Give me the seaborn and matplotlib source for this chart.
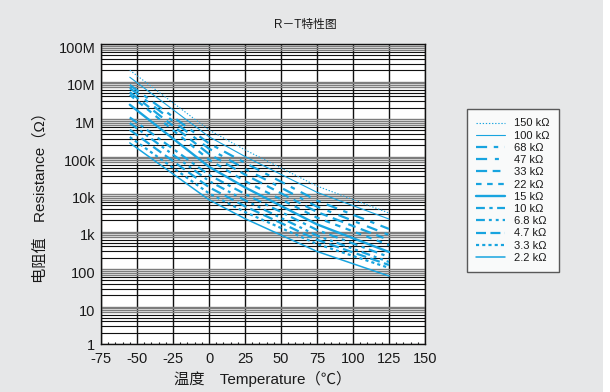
import matplotlib
matplotlib.use("Agg")
import matplotlib.pyplot as plt
import matplotlib.transforms as mtransforms
import numpy as np
import pandas as pd
import seaborn as sns

# Resistance (ohm) of each NTC thermistor at the listed temperatures (degC)
temps = [-55, 0, 25, 75, 125]
r_150k = [20.0e6, 509e3, 150e3, 16.3e3, 3.1e3]
r_100k = [13.0e6, 337e3, 100e3, 11.1e3, 2.15e3]
r_68k = [8.1e6, 224e3, 68e3, 6.67e3, 1.17e3]
r_47k = [6.7e6, 162e3, 47e3, 4.61e3, 810]
r_33k = [5.2e6, 117e3, 33e3, 3.32e3, 593]
r_22k = [4.4e6, 82.6e3, 22e3, 2.34e3, 435]
r_15k = [2.4e6, 53.2e3, 15e3, 1.55e3, 284]
r_10k = [1.1e6, 32.3e3, 10e3, 1.10e3, 209]
r_6k8 = [780e3, 22.2e3, 6.8e3, 780, 154]
r_4k7 = [515e3, 15.2e3, 4.7e3, 600, 128]
r_3k3 = [330e3, 10.4e3, 3.3e3, 465, 107]
r_2k2 = [230e3, 7.03e3, 2.2e3, 294, 65]

series_labels = ["150 kΩ", "100 kΩ", "68 kΩ", "47 kΩ", "33 kΩ", "22 kΩ",
                 "15 kΩ", "10 kΩ", "6.8 kΩ", "4.7 kΩ", "3.3 kΩ", "2.2 kΩ"]
series_values = [r_150k, r_100k, r_68k, r_47k, r_33k, r_22k,
                 r_15k, r_10k, r_6k8, r_4k7, r_3k3, r_2k2]

x_ticks = [-75, -50, -25, 0, 25, 50, 75, 100, 125, 150]
y_ticks = [1, 10, 100, 1e3, 1e4, 1e5, 1e6, 1e7, 1e8]
y_tick_labels = ["1", "10", "100", "1k", "10k", "100k", "1M", "10M", "100M"]

# line style and width of each curve
styles = [
    ((0, (1.2, 1.6)), 0.8),
    ("-", 0.8),
    ((0, (5, 3, 2, 3)), 1.6),
    ((0, (5, 3.5, 1.8, 3.5)), 1.6),
    ((0, (5, 2.5, 3.5, 2.5)), 1.6),
    ((0, (2.5, 2.5)), 1.6),
    ("-", 1.7),
    ((0, (4, 2, 1.5, 2)), 1.6),
    ((0, (4, 1.8, 1.3, 1.8, 1.3, 1.8)), 1.6),
    ((0, (4.5, 2)), 1.6),
    ((0, (1.4, 1.4)), 1.6),
    ("-", 1.1),
]
curve_color = "#18a4df"
text_color = "#1a1a1a"

rows = []
for lab, vals in zip(series_labels, series_values):
    for t, r in zip(temps, vals):
        rows.append({"series": lab, "temp": t, "R": r})
df = pd.DataFrame(rows)

sns.set_theme(style="white")
plt.rcParams["font.family"] = ["Liberation Sans", "Noto Sans CJK SC", "DejaVu Sans"]

fig = plt.figure(figsize=(6.10, 3.92), dpi=100)
fig.patch.set_facecolor("#e6e7e8")
# white strip along the right edge
fig.add_artist(plt.Rectangle((603 / 610, 0), 7 / 610, 1, transform=fig.transFigure,
                             facecolor="white", edgecolor="none"))

ax = fig.add_axes([101 / 610, 1 - 344 / 392, 324 / 610, 300 / 392])
ax.set_facecolor("white")
ax.set_yscale("log")
ax.set_xlim(-75, 150)
ax.set_ylim(1, 1e8)

# grid: vertical every 25 degC, horizontal at every log subdivision
for xv in x_ticks:
    ax.axvline(xv, color="#111111", lw=1.0, zorder=1)
for k in range(8):
    base = 10.0 ** k
    for m in range(1, 10):
        yv = m * base
        if m == 1 or m >= 7:
            ax.axhline(yv, color="#7d7d7d", lw=1.0, zorder=1)
        else:
            ax.axhline(yv, color="#111111", lw=0.8, zorder=1)
ax.axhline(1e8, color="#7d7d7d", lw=1.0, zorder=1)

handles = []
for (lab, vals), (ls, lw) in zip(zip(series_labels, series_values), styles):
    sub = df[df["series"] == lab]
    sns.lineplot(data=sub, x="temp", y="R", ax=ax, color=curve_color,
                 linestyle=ls, linewidth=lw, label=lab, legend=False, zorder=3)
    handles.append(ax.get_lines()[-1])

ax.set_xticks(x_ticks)
ax.set_xticklabels([str(v) for v in x_ticks], fontsize=10.5, color=text_color)
ax.set_yticks(y_ticks)
ax.set_yticklabels(y_tick_labels, fontsize=10.5, color=text_color)
ax.yaxis.set_minor_locator(matplotlib.ticker.NullLocator())
ax.set_xticks(np.arange(-75, 151, 5), minor=True)
ax.tick_params(axis="x", which="major", length=0, pad=6)
ax.tick_params(axis="y", which="major", length=0, pad=4)
ax.tick_params(axis="x", which="minor", direction="in", length=1.5, width=0.8,
               color="#111111", bottom=True)
# y labels sit slightly below their decade lines (except the bottom one)
shift = mtransforms.ScaledTranslation(0, -3.5 / 100, fig.dpi_scale_trans)
for lbl in ax.get_yticklabels()[1:]:
    lbl.set_transform(lbl.get_transform() + shift)
for sp in ax.spines.values():
    sp.set_color("#111111")
    sp.set_linewidth(1.0)

ax.set_xlabel("温度　Temperature（℃）", fontsize=11, color=text_color, labelpad=3)
ax.set_ylabel("电阻值　Resistance（Ω）", fontsize=11, color=text_color, labelpad=8)

fig.text(0.5, 1 - 25 / 392, "R－T特性图", ha="center", va="center",
         fontsize=8.5, color=text_color)

leg = fig.legend(handles=handles, labels=series_labels, loc="upper left",
                 bbox_to_anchor=(467 / 610, 1 - 109 / 392), fontsize=8,
                 frameon=True, fancybox=False, handlelength=2.6,
                 handletextpad=0.8, labelspacing=0.2, borderpad=0.85,
                 borderaxespad=0)
leg.get_frame().set_edgecolor("#333333")
leg.get_frame().set_linewidth(1.0)
leg.get_frame().set_facecolor("white")
for t in leg.get_texts():
    t.set_color(text_color)

fig.savefig("out.png", dpi=100, facecolor=fig.get_facecolor())
